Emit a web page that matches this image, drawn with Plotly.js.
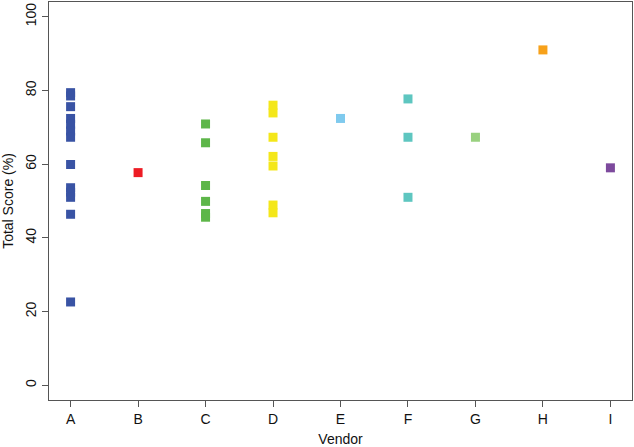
<!DOCTYPE html>
<html><head><meta charset="utf-8">
<script src="https://cdn.plot.ly/plotly-3.0.1.min.js"></script>
<style>html,body{margin:0;padding:0;background:#fff}#chart{width:634px;height:447px}</style>
</head><body><div id="chart"></div>
<script>
const vendors = ["A","B","C","D","E","F","G","H","I"];
const scoresA = [79.4, 78.5, 75.6, 72.4, 70.8, 69.0, 67.3, 59.9, 53.6, 52.4, 51.0, 46.4, 22.6];
const scoresB = [57.7];
const scoresC = [70.9, 65.8, 54.2, 49.9, 46.6, 45.6];
const scoresD = [76.0, 73.9, 67.3, 62.1, 59.5, 48.9, 46.8];
const scoresE = [72.4];
const scoresF = [77.7, 67.3, 51.0];
const scoresG = [67.3];
const scoresH = [91.0];
const scoresI = [59.0];
const allScores = [scoresA, scoresB, scoresC, scoresD, scoresE, scoresF, scoresG, scoresH, scoresI];
const colors = ["#3953A4", "#ED1C24", "#5DB649", "#F4E71A", "#7FCAEE", "#5EC6C0", "#99D17F", "#F7A11A", "#7D4A9D"];
const yTicks = [0, 20, 40, 60, 80, 100];

const traces = vendors.map((v, i) => ({
  type: "scatter", mode: "markers",
  x: allScores[i].map(() => i + 1),
  y: allScores[i],
  marker: {symbol: "square", size: 9, color: colors[i], line: {width: 0}},
  showlegend: false, hoverinfo: "x+y"
}));

const font = {family: "Liberation Sans, Arial, Helvetica, sans-serif", size: 14, color: "#111"};
const layout = {
  width: 634, height: 447,
  margin: {l: 49, r: 2, t: 2, b: 47},
  paper_bgcolor: "#fff", plot_bgcolor: "#fff",
  font: font,
  xaxis: {
    range: [0.68, 9.32], tickvals: vendors.map((v, i) => i + 1), ticktext: vendors,
    showgrid: false, zeroline: false, showline: true, mirror: true,
    linecolor: "#555", linewidth: 1, ticks: "outside", ticklen: 6, tickcolor: "#555",
    tickfont: font,
    title: {text: "Vendor", font: font, standoff: 10}
  },
  yaxis: {
    range: [-4, 104], tickvals: yTicks, ticktext: yTicks.map(String), tickangle: -90,
    showgrid: false, zeroline: false, showline: true, mirror: true,
    linecolor: "#555", linewidth: 1, ticks: "outside", ticklen: 6, tickcolor: "#555",
    tickfont: font,
    title: {text: "Total Score (%)", font: font, standoff: 6}
  }
};
Plotly.newPlot("chart", traces, layout, {staticPlot: true, displayModeBar: false});
</script></body></html>
